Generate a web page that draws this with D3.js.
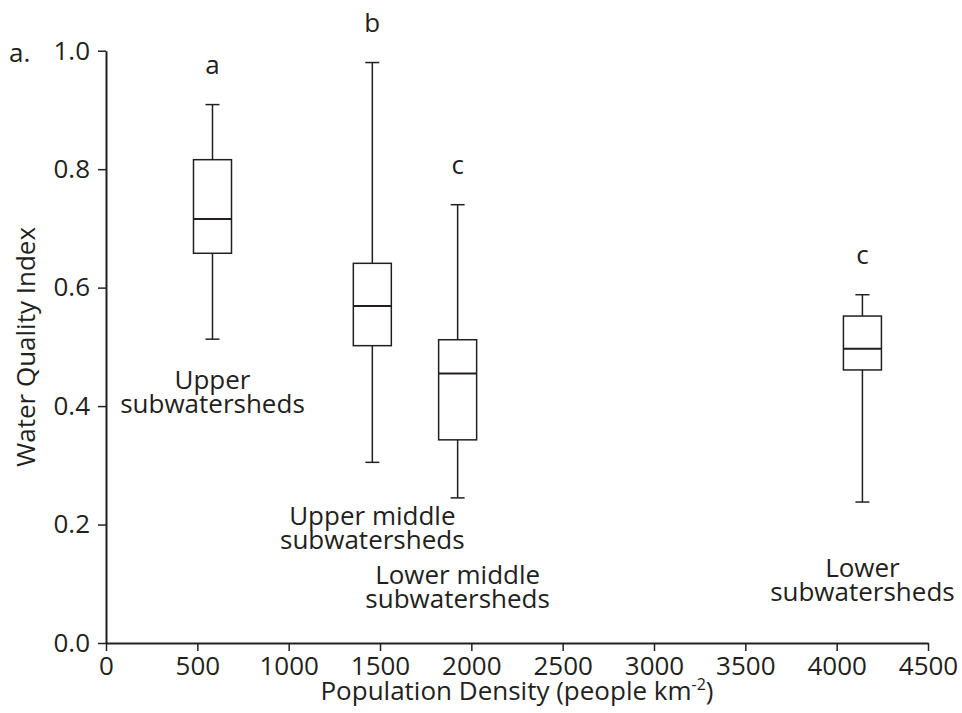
<!DOCTYPE html>
<html>
<head>
<meta charset="utf-8">
<script src="https://cdn.jsdelivr.net/npm/d3@7"></script>
<style>
  html, body { margin: 0; padding: 0; background: #fff; }
  svg text { font-family: "Open Sans", "Noto Sans", sans-serif; fill: #231f20; }
</style>
</head>
<body>
<svg id="chart" width="962" height="713"></svg>
<script>
// ---- data ----
const categories = ["Upper subwatersheds", "Upper middle subwatersheds", "Lower middle subwatersheds", "Lower subwatersheds"];
const density    = [583, 1458, 1925, 4141];
const whiskerHigh = [0.909, 0.980, 0.740, 0.588];
const q3          = [0.816, 0.641, 0.512, 0.552];
const median      = [0.716, 0.569, 0.455, 0.497];
const q1          = [0.658, 0.502, 0.343, 0.461];
const whiskerLow  = [0.513, 0.305, 0.245, 0.238];
const groupLetters = ["a", "b", "c", "c"];
const labelLines = [["Upper", "subwatersheds"], ["Upper middle", "subwatersheds"], ["Lower middle", "subwatersheds"], ["Lower", "subwatersheds"]];
const xTicks = [0, 500, 1000, 1500, 2000, 2500, 3000, 3500, 4000, 4500];
const yTicks = [0.0, 0.2, 0.4, 0.6, 0.8, 1.0];

// ---- layout (pixels) ----
const plot = { left: 106, right: 928, top: 50.7, bottom: 643 };
const boxW = 38, capW = 14, fontSize = 26, lineGap = 23.5;
const ink = "#231f20";
// first-line baseline y of each group label (centred on its box)
const labelBaseline = [389, 525, 584, 577];

const svg = d3.select("#chart");
const x = d3.scaleLinear().domain([0, 4500]).range([plot.left, plot.right]);
const y = d3.scaleLinear().domain([0, 1]).range([plot.bottom, plot.top]);

// axes
const gx = svg.append("g").attr("transform", `translate(0,${plot.bottom})`)
  .call(d3.axisBottom(x).tickValues(xTicks).tickFormat(d3.format("d")).tickSize(8).tickSizeOuter(0).tickPadding(6));
const gy = svg.append("g").attr("transform", `translate(${plot.left},0)`)
  .call(d3.axisLeft(y).tickValues(yTicks).tickFormat(d3.format(".1f")).tickSize(8).tickSizeOuter(0).tickPadding(8));
[gx, gy].forEach(g => {
  g.select(".domain").attr("stroke", ink).attr("stroke-width", 2);
  g.selectAll(".tick line").attr("stroke", ink).attr("stroke-width", 1.5);
  g.selectAll(".tick text").style("font-size", fontSize + "px").attr("fill", ink)
    .style("font-family", '"Open Sans", "Noto Sans", sans-serif');
});

// boxes
const data = categories.map((c, i) => ({
  c, x: density[i], hi: whiskerHigh[i], q3: q3[i], med: median[i], q1: q1[i], lo: whiskerLow[i],
  letter: groupLetters[i], lines: labelLines[i], base: labelBaseline[i]
}));
const g = svg.append("g");
const bx = g.selectAll("g.box").data(data).join("g").attr("class", "box");
bx.append("line").attr("x1", d => x(d.x)).attr("x2", d => x(d.x))
  .attr("y1", d => y(d.hi)).attr("y2", d => y(d.q3)).attr("stroke", ink).attr("stroke-width", 1.5);
bx.append("line").attr("x1", d => x(d.x)).attr("x2", d => x(d.x))
  .attr("y1", d => y(d.q1)).attr("y2", d => y(d.lo)).attr("stroke", ink).attr("stroke-width", 1.5);
bx.append("line").attr("x1", d => x(d.x) - capW / 2).attr("x2", d => x(d.x) + capW / 2)
  .attr("y1", d => y(d.hi)).attr("y2", d => y(d.hi)).attr("stroke", ink).attr("stroke-width", 1.5);
bx.append("line").attr("x1", d => x(d.x) - capW / 2).attr("x2", d => x(d.x) + capW / 2)
  .attr("y1", d => y(d.lo)).attr("y2", d => y(d.lo)).attr("stroke", ink).attr("stroke-width", 1.5);
bx.append("rect").attr("x", d => x(d.x) - boxW / 2).attr("width", boxW)
  .attr("y", d => y(d.q3)).attr("height", d => y(d.q1) - y(d.q3))
  .attr("fill", "none").attr("stroke", ink).attr("stroke-width", 1.5);
bx.append("line").attr("x1", d => x(d.x) - boxW / 2).attr("x2", d => x(d.x) + boxW / 2)
  .attr("y1", d => y(d.med)).attr("y2", d => y(d.med)).attr("stroke", ink).attr("stroke-width", 2);
bx.append("text").attr("x", d => x(d.x)).attr("y", d => y(d.hi) - 31)
  .attr("text-anchor", "middle").style("font-size", fontSize + "px").text(d => d.letter);

// group labels: one text element per group, one tspan per line
bx.append("text").attr("class", "lab")
  .attr("text-anchor", "middle").style("font-size", fontSize + "px")
  .each(function (d) {
    d3.select(this).selectAll("tspan").data(d.lines).join("tspan")
      .attr("x", x(d.x)).attr("y", (t, j) => d.base + j * lineGap).text(t => t);
  });

// panel letter
svg.append("text").attr("x", 9).attr("y", 62).style("font-size", fontSize + "px").text("a.");

// axis titles
svg.append("text").attr("transform", `translate(35,${(plot.top + plot.bottom) / 2}) rotate(-90)`)
  .attr("text-anchor", "middle").style("font-size", fontSize + "px").text("Water Quality Index");
const xt = svg.append("text").attr("x", (plot.left + plot.right) / 2).attr("y", 700)
  .attr("text-anchor", "middle").style("font-size", fontSize + "px");
xt.append("tspan").text("Population Density (people km");
xt.append("tspan").attr("dy", -10).style("font-size", "16px").text("-2");
xt.append("tspan").attr("dy", 10).text(")");
</script>
</body>
</html>
